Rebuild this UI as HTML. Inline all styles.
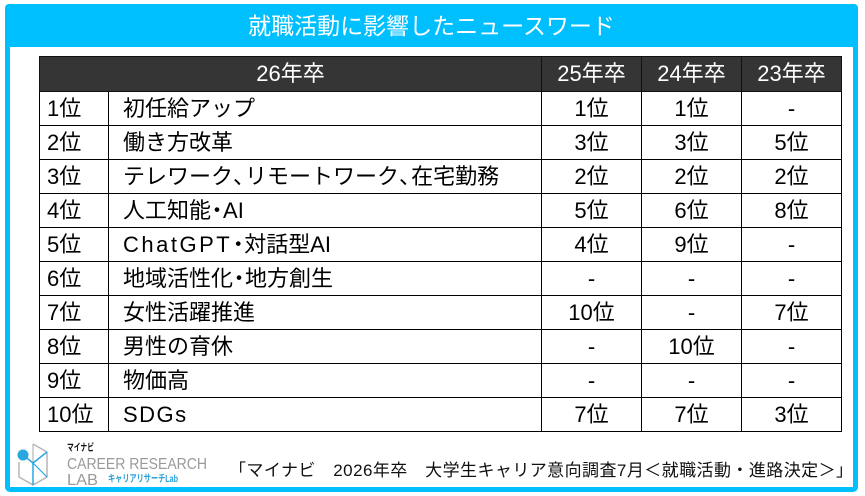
<!DOCTYPE html>
<html><head><meta charset="utf-8">
<style>
html,body{margin:0;padding:0;}
body{width:865px;height:496px;position:relative;background:#fff;overflow:hidden;font-family:"Liberation Sans","Noto Sans CJK JP",sans-serif;}
.frame{position:absolute;left:5px;top:4px;width:853px;height:488px;box-sizing:border-box;border:5px solid #00bfff;border-radius:5px;}
.title{position:absolute;left:5px;top:4px;width:853px;height:43px;background:#00bfff;color:#fff;font-size:23px;text-align:center;line-height:45px;border-radius:4px 4px 0 0;}
table{position:absolute;left:39px;top:56px;border-collapse:collapse;table-layout:fixed;width:802px;}
td{border:1px solid #000;font-size:22px;color:#000;padding:0;white-space:nowrap;height:33px;line-height:33px;}
tr.h td{background:#353535;color:#fff;text-align:center;height:34px;line-height:34px;border-color:#111;}
td.r{padding-left:7px;}
td.n{padding-left:14px;}
td.c{text-align:center;}
.cm{letter-spacing:-10px;}
.dt{margin:0 -5px;}
svg{position:absolute;left:0;top:0;}
</style></head><body>
<div class="frame"></div>
<div class="title">就職活動に影響したニュースワード</div>
<table>
<colgroup><col style="width:69px"><col style="width:433px"><col style="width:100px"><col style="width:100px"><col style="width:100px"></colgroup>
<tr class="h"><td colspan="2">26年卒</td><td>25年卒</td><td>24年卒</td><td>23年卒</td></tr>
<tr><td class="r">1位</td><td class="n">初任給アップ</td><td class="c">1位</td><td class="c">1位</td><td class="c">-</td></tr>
<tr><td class="r">2位</td><td class="n">働き方改革</td><td class="c">3位</td><td class="c">3位</td><td class="c">5位</td></tr>
<tr><td class="r">3位</td><td class="n">テレワーク<span class="cm">、</span>リモートワーク<span class="cm">、</span>在宅勤務</td><td class="c">2位</td><td class="c">2位</td><td class="c">2位</td></tr>
<tr><td class="r">4位</td><td class="n">人工知能<span class="dt">・</span>AI</td><td class="c">5位</td><td class="c">6位</td><td class="c">8位</td></tr>
<tr><td class="r">5位</td><td class="n"><span style="letter-spacing:2.5px">ChatGPT</span><span class="dt">・</span>対話型AI</td><td class="c">4位</td><td class="c">9位</td><td class="c">-</td></tr>
<tr><td class="r">6位</td><td class="n">地域活性化<span class="dt">・</span>地方創生</td><td class="c">-</td><td class="c">-</td><td class="c">-</td></tr>
<tr><td class="r">7位</td><td class="n">女性活躍推進</td><td class="c">10位</td><td class="c">-</td><td class="c">7位</td></tr>
<tr><td class="r">8位</td><td class="n">男性の育休</td><td class="c">-</td><td class="c">10位</td><td class="c">-</td></tr>
<tr><td class="r">9位</td><td class="n">物価高</td><td class="c">-</td><td class="c">-</td><td class="c">-</td></tr>
<tr><td class="r">10位</td><td class="n"><span style="letter-spacing:1.5px">SDGs</span></td><td class="c">7位</td><td class="c">7位</td><td class="c">3位</td></tr>
</table>
<svg width="865" height="496" viewBox="0 0 865 496">
  <polyline points="33,444 47,452 47,477 33,485 19,477 19,462" fill="none" stroke="#b5b5b5" stroke-width="1.5"/>
  <line x1="33" y1="444" x2="33" y2="462" stroke="#b5b5b5" stroke-width="1.2"/>
  <polyline points="23,455 33,463 47,452" fill="none" stroke="#2aa7e0" stroke-width="1.5"/>
  <line x1="33" y1="463" x2="33" y2="485" stroke="#2aa7e0" stroke-width="1.5"/>
  <line x1="33" y1="463" x2="47" y2="477" stroke="#2aa7e0" stroke-width="1.2"/>
  <circle cx="23" cy="455" r="5.5" fill="#2aa7e0"/>
  <text x="67" y="451" font-size="10" font-weight="bold" fill="#111" textLength="27" lengthAdjust="spacingAndGlyphs" font-family="Liberation Sans, Noto Sans CJK JP, sans-serif">マイナビ</text>
  <text x="67" y="469" font-size="16" fill="#9a9a9a" textLength="140" lengthAdjust="spacingAndGlyphs" font-family="Liberation Sans, sans-serif">CAREER RESEARCH</text>
  <text x="67" y="485" font-size="16" fill="#9a9a9a" textLength="31" lengthAdjust="spacingAndGlyphs" font-family="Liberation Sans, sans-serif">LAB</text>
  <text x="108" y="482" font-size="10" font-weight="bold" fill="#2aa0d8" textLength="70" lengthAdjust="spacingAndGlyphs" font-family="Liberation Sans, Noto Sans CJK JP, sans-serif">キャリアリサーチLab</text>
  <text x="229" y="476" font-size="17" fill="#111" textLength="624" lengthAdjust="spacing" font-family="Liberation Sans, Noto Sans CJK JP, sans-serif">「マイナビ　2026年卒　大学生キャリア意向調査7月＜就職活動・進路決定＞」</text>
</svg>
</body></html>
